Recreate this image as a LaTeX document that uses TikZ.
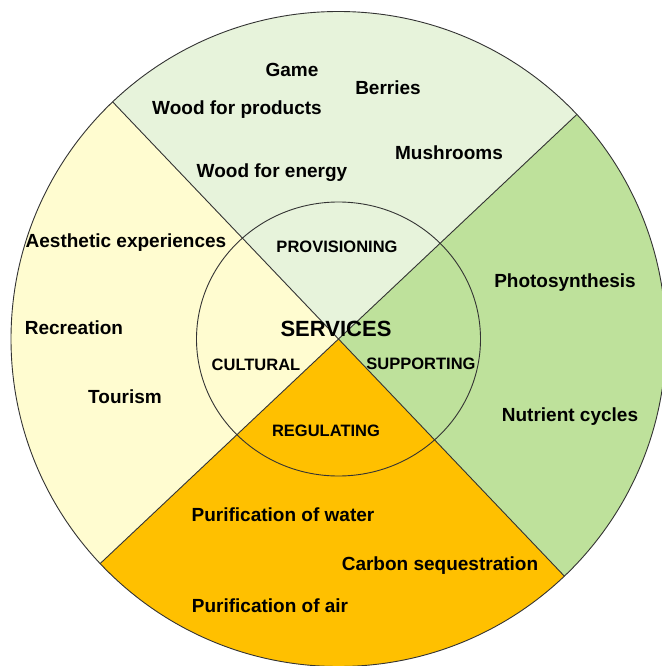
\documentclass[tikz,border=0pt]{standalone}
\usepackage{fontspec}
\setmainfont{Liberation Sans}
\usepackage{tikz}
\usetikzlibrary{calc}

\definecolor{provfill}{RGB}{231,243,219}
\definecolor{cultfill}{RGB}{255,252,208}
\definecolor{suppfill}{RGB}{190,225,155}
\definecolor{regfill}{RGB}{255,192,0}

\begin{document}
\begin{tikzpicture}
            [x=1pt, y=-1pt,
            item/.style={anchor=base, inner sep=0pt, font=\fontsize{19}{22}\selectfont\bfseries},
            group/.style={anchor=base, inner sep=0pt, font=\fontsize{16.5}{19}\selectfont\bfseries},
            hub/.style={anchor=base, inner sep=0pt, font=\fontsize{22}{26}\selectfont\bfseries},
            rim/.style={draw=black!80, line width=0.9pt}]

            \useasboundingbox (0,0) rectangle (661,666);

            % centre and the two dividing lines
            \coordinate (c)   at (338.5,339);
            \coordinate (tl)  at (108,97);
            \coordinate (tr)  at (572,119);
            \coordinate (br)  at ($(c)!-1!(tl)$);
            \coordinate (bl)  at ($(c)!-1!(tr)$);
            \coordinate (ftl) at ($(c)!2!(tl)$);
            \coordinate (ftr) at ($(c)!2!(tr)$);
            \coordinate (fbr) at ($(c)!2!(br)$);
            \coordinate (fbl) at ($(c)!2!(bl)$);

            \begin{scope}
                \clip (c) circle (327.5);
                \fill[provfill] (c) -- (ftl) -- (ftr) -- cycle;
                \fill[suppfill] (c) -- (ftr) -- (fbr) -- cycle;
                \fill[regfill]  (c) -- (fbr) -- (fbl) -- cycle;
                \fill[cultfill] (c) -- (fbl) -- (ftl) -- cycle;
                \draw[rim] (ftl) -- (fbr);
                \draw[rim] (ftr) -- (fbl);
            \end{scope}

            \draw[rim] (c) ellipse (142 and 137);
            \draw[rim] (c) circle (327.5);

            % centre
            \node[hub]   (services)  at (336,336) {SERVICES};
            \node[group] (prov)      at (337,252) {PROVISIONING};
            \node[group] (cult)      at (256,370) {CULTURAL};
            \node[group] (supp)      at (421,369) {SUPPORTING};
            \node[group] (reg)       at (326,436) {REGULATING};

            % provisioning
            \node[item]  (game)      at (292,77)  {Game};
            \node[item]  (berries)   at (388,95)  {Berries};
            \node[item]  (products)  at (237,115) {Wood for products};
            \node[item]  (mushrooms) at (449,159) {Mushrooms};
            \node[item]  (energy)    at (272,177) {Wood for energy};

            % cultural
            \node[item]  (aesthetic) at (126,247) {Aesthetic experiences};
            \node[item]  (recreation) at (74,334) {Recreation};
            \node[item]  (tourism)   at (125,403) {Tourism};

            % supporting
            \node[item]  (photo)     at (565,287) {Photosynthesis};
            \node[item]  (nutrient)  at (570,421) {Nutrient cycles};

            % regulating
            \node[item]  (water)     at (283,521) {Purification of water};
            \node[item]  (carbon)    at (440,570) {Carbon sequestration};
            \node[item]  (air)       at (270,612) {Purification of air};
\end{tikzpicture}
\end{document}
